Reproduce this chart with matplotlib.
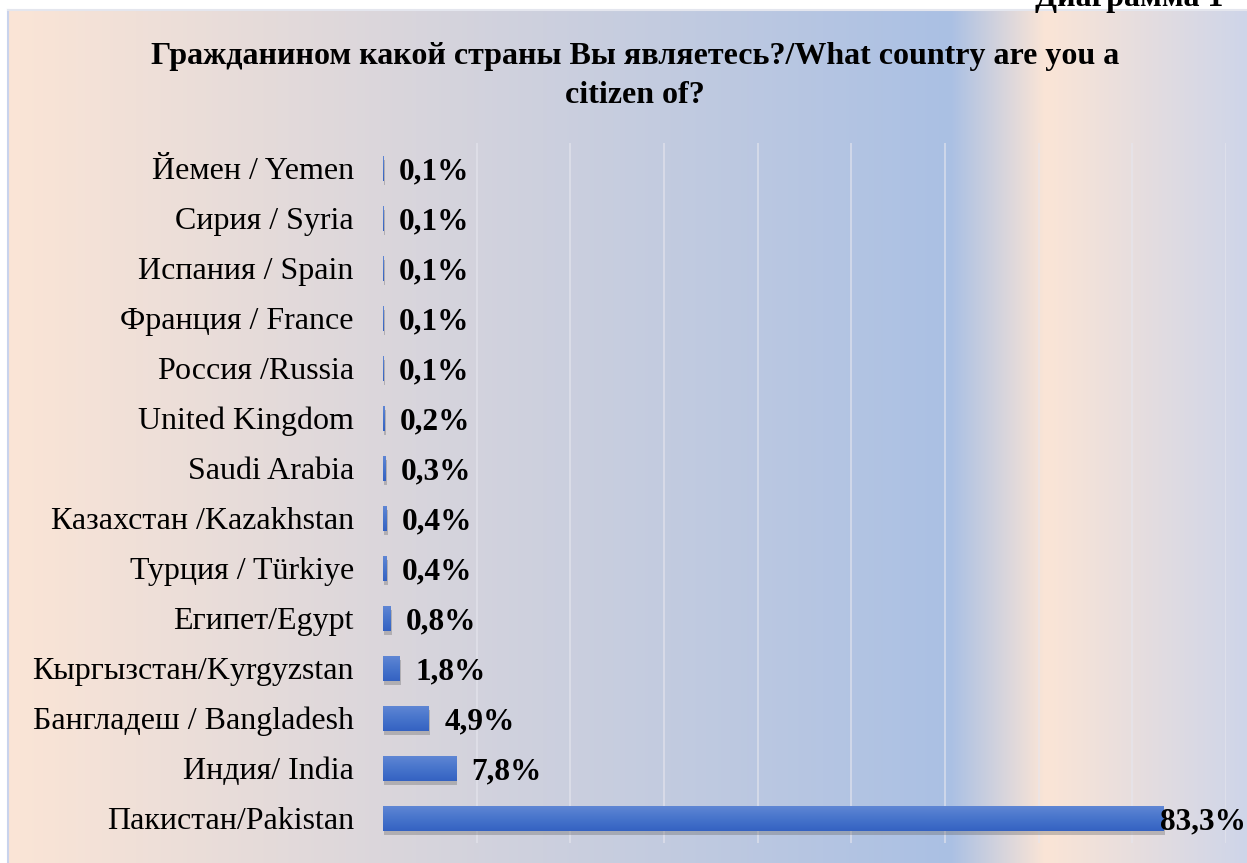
import numpy as np
import matplotlib.pyplot as plt
import matplotlib.patheffects as pe
from matplotlib.colors import LinearSegmentedColormap

plt.rcParams['font.family'] = ['Liberation Serif', 'DejaVu Serif']

countries = ['Йемен / Yemen', 'Сирия / Syria', 'Испания / Spain', 'Франция / France',
             'Россия /Russia', 'United Kingdom', 'Saudi Arabia', 'Казахстан /Kazakhstan',
             'Турция / Türkiye', 'Египет/Egypt', 'Кыргызстан/Kyrgyzstan',
             'Бангладеш / Bangladesh', 'Индия/ India', 'Пакистан/Pakistan']
shares = [0.1, 0.1, 0.1, 0.1, 0.1, 0.2, 0.3, 0.4, 0.4, 0.8, 1.8, 4.9, 7.8, 83.3]
title = 'Гражданином какой страны Вы являетесь?/What country are you a\ncitizen of?'

W, H = 1247, 863
fig = plt.figure(figsize=(W / 100, H / 100), dpi=100)

# background gradient (pixel coordinates)
bg = fig.add_axes([0, 0, 1, 1], zorder=-10)
bg.set_xlim(0, W)
bg.set_ylim(H, 0)
bg.axis('off')
stops_x = [8, 950, 1045, 1247]
stops_c = [(251, 229, 214), (170, 192, 228), (251, 229, 214), (206, 213, 233)]
xs = np.arange(8, W)
grad = np.zeros((1, len(xs), 3))
for k in range(3):
    grad[0, :, k] = np.interp(xs, stops_x, [c[k] for c in stops_c]) / 255
bg.imshow(grad, extent=(8, W, H, 10), aspect='auto', interpolation='bilinear')
bg.plot([7.5, 7.5], [10, H], color='#c9d3ec', lw=1.5)
bg.plot([8, W], [10, 10], color='#e4e6ee', lw=1.5)

ax = fig.add_axes([383 / W, 1 - 843 / H, (1226 - 383) / W, 700 / H])
ax.patch.set_alpha(0)
y = np.arange(len(countries))
bars = ax.barh(y, shares, height=0.5, color='#4472c4', zorder=3,
               path_effects=[pe.SimplePatchShadow(offset=(1, -3), shadow_rgbFace='#666666', alpha=0.35),
                             pe.Normal()])

# vertical gradient on bars: lighter on top, darker at the bottom
cmap = LinearSegmentedColormap.from_list('b', ['#3462c2', '#4774cb', '#5f86d4'])
g = np.linspace(0, 1, 64).reshape(-1, 1)
for b in bars:
    x0, y0 = b.get_x(), b.get_y()
    im = ax.imshow(g, cmap=cmap, extent=(x0, x0 + b.get_width(), y0 + b.get_height(), y0),
                   aspect='auto', origin='lower', zorder=4)
    im.set_clip_path(b)

for yi, v in zip(y, shares):
    lab = f'{v:.1f}%'.replace('.', ',')
    off = 11 if v < 50 else -2
    ax.annotate(lab, (v, yi), xytext=(off, 0), textcoords='offset points',
                ha='left', va='center_baseline', fontsize=22.5, fontweight='bold', zorder=6,
                annotation_clip=False)

ax.set_xlim(0, 90)
ax.set_ylim(len(countries) - 0.5, -0.5)
ax.set_xticks(np.arange(10, 91, 10))
ax.set_xticklabels([])
ax.xaxis.grid(True, color='#e6e6ee', lw=1.2, alpha=0.7, zorder=0)
ax.set_axisbelow(True)
ax.tick_params(axis='x', length=0)
ax.tick_params(axis='y', length=0, pad=21)
ax.set_yticks(y)
ax.set_yticklabels(countries, fontsize=23)
for s in ax.spines.values():
    s.set_visible(False)

fig.text(635 / W, 1 - 76 / H, title, ha='center', va='center', fontsize=23,
         fontweight='bold', linespacing=1.48)
fig.text(1035 / W, 1 - 6 / H, 'Диаграмма 1', ha='left', va='baseline', fontsize=23,
         fontweight='bold')

fig.savefig('out.png', dpi=100)
